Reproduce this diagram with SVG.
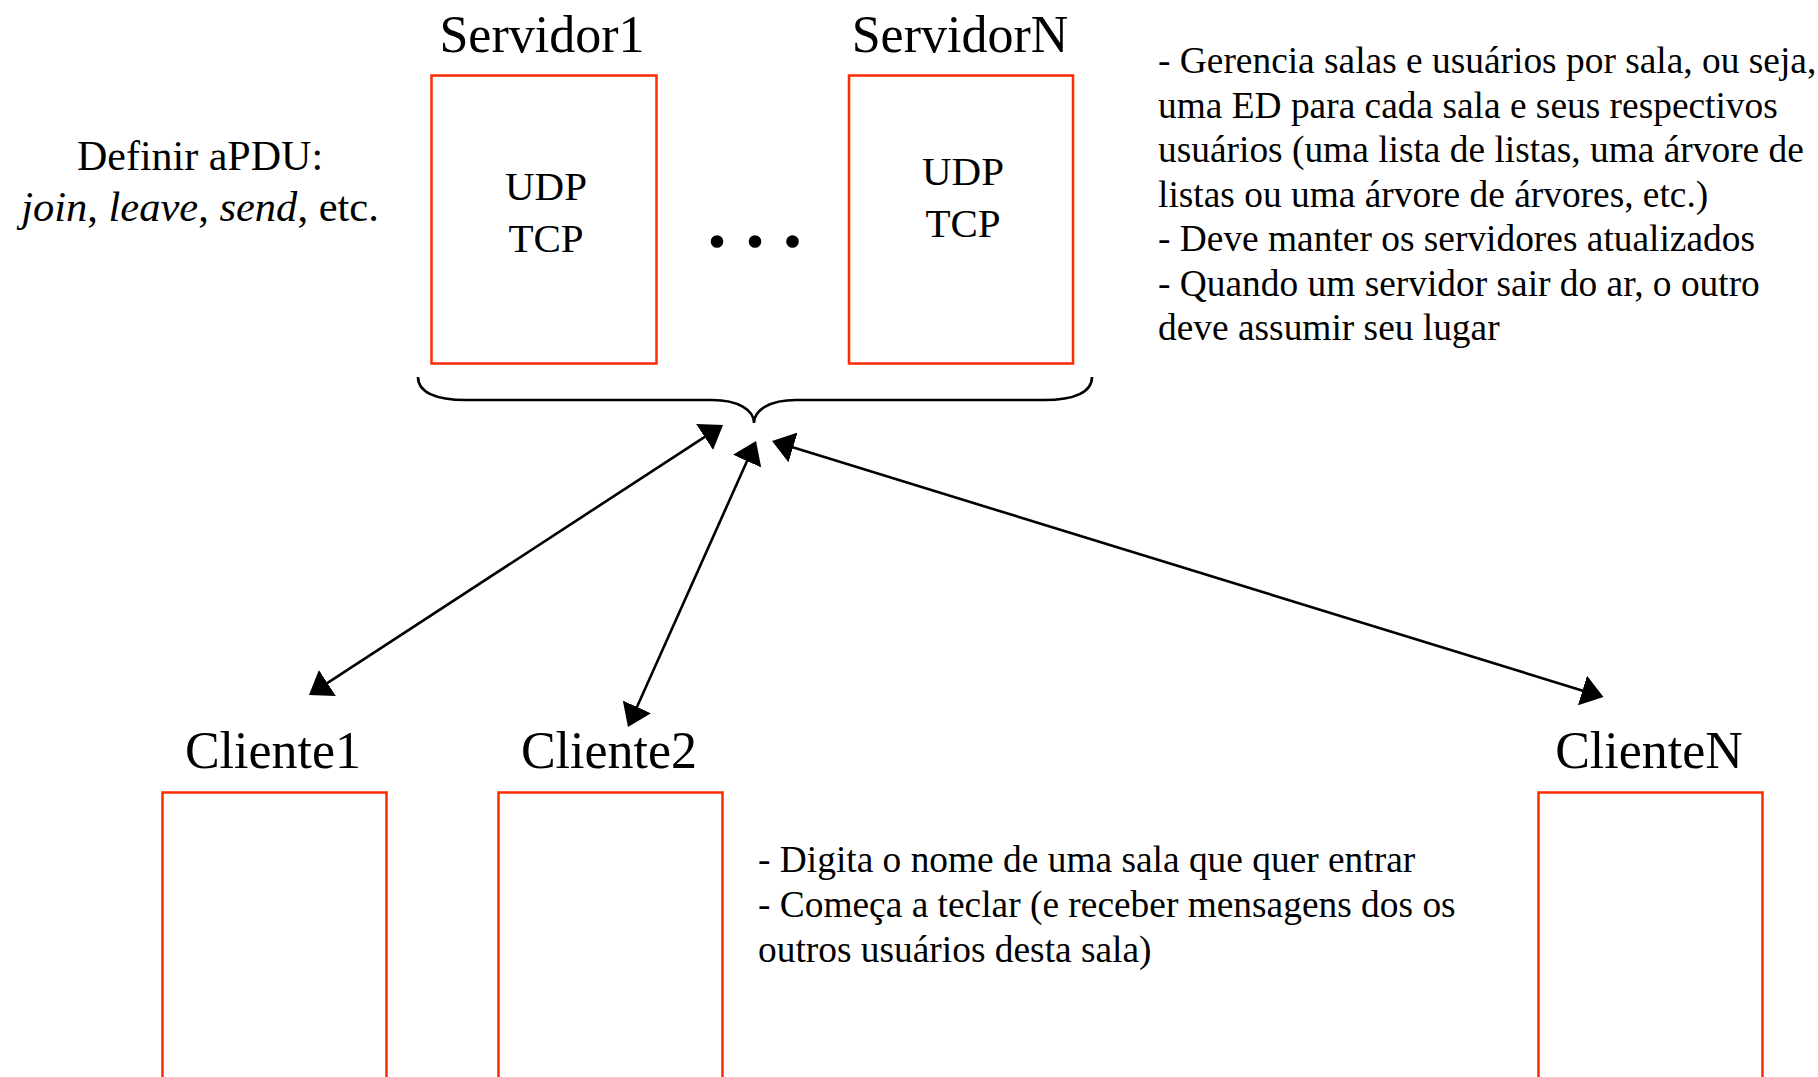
<svg xmlns="http://www.w3.org/2000/svg" width="1818" height="1077" viewBox="0 0 1818 1077">
<defs>
<style>
text{font-family:"Liberation Serif","Times New Roman",serif;fill:#000}
.box{fill:none;stroke:#ff2a00;stroke-width:2.5}
.lbl{font-size:52px;text-anchor:middle}
.proto{font-size:41px;text-anchor:middle}
.note{font-size:37.4px}
.conn{stroke:#000;stroke-width:2.6;fill:none}
</style>
<marker id="ah" markerUnits="userSpaceOnUse" viewBox="0 0 22 31" markerWidth="22" markerHeight="31" refX="8" refY="15.5" orient="auto-start-reverse">
<path d="M0,0 L22,15.5 L0,31 z" fill="#000"/>
</marker>
</defs>
<rect width="1818" height="1077" fill="#fff"/>

<g id="servidor1">
<rect class="box" x="431.5" y="75.5" width="225" height="288"/>
<text class="lbl" x="542" y="52">Servidor1</text>
<text class="proto" x="546" y="200">UDP</text>
<text class="proto" x="546" y="251.5">TCP</text>
</g>

<g id="servidorN">
<rect class="box" x="849" y="75.5" width="224" height="288"/>
<text class="lbl" x="960" y="52">ServidorN</text>
<text class="proto" x="963" y="185">UDP</text>
<text class="proto" x="963" y="236.5">TCP</text>
</g>

<g id="ellipsis">
<circle cx="717" cy="241.5" r="6.3"/>
<circle cx="755" cy="241.5" r="6.3"/>
<circle cx="792.5" cy="241.5" r="6.3"/>
</g>

<g id="brace">
<path class="conn" d="M418,377 C418,392 435,400 466,400 L712,400 C738,400 754,410 754,423 C754,410 770,400 796,400 L1044,400 C1075,400 1092,392 1092,377"/>
</g>

<g id="apdu">
<text x="200" y="170" font-size="42" text-anchor="middle">Definir aPDU:</text>
<text x="200" y="221" font-size="42.5" text-anchor="middle"><tspan font-style="italic">join</tspan>, <tspan font-style="italic">leave</tspan>, <tspan font-style="italic">send</tspan>, etc.</text>
</g>

<g id="servidor-notes">
<text class="note" x="1158" y="73">- Gerencia salas e usuários por sala, ou seja,</text>
<text class="note" x="1158" y="117.5">uma ED para cada sala e seus respectivos</text>
<text class="note" x="1158" y="162">usuários (uma lista de listas, uma árvore de</text>
<text class="note" x="1158" y="206.5">listas ou uma árvore de árvores, etc.)</text>
<text class="note" x="1158" y="251">- Deve manter os servidores atualizados</text>
<text class="note" x="1158" y="295.5">- Quando um servidor sair do ar, o outro</text>
<text class="note" x="1158" y="340">deve assumir seu lugar</text>
</g>

<g id="cliente1">
<rect class="box" x="162.5" y="792.5" width="224" height="300"/>
<text class="lbl" x="273" y="768">Cliente1</text>
</g>

<g id="cliente2">
<rect class="box" x="498.5" y="792.5" width="224" height="300"/>
<text class="lbl" x="609" y="768">Cliente2</text>
</g>

<g id="clienteN">
<rect class="box" x="1538.5" y="792.5" width="224" height="300"/>
<text class="lbl" x="1649" y="768">ClienteN</text>
</g>

<g id="cliente-notes">
<text class="note" x="758" y="872">- Digita o nome de uma sala que quer entrar</text>
<text class="note" x="758" y="917">- Começa a teclar (e receber mensagens dos os</text>
<text class="note" x="758" y="962">outros usuários desta sala)</text>
</g>

<g id="connectors">
<line class="conn" x1="320.7" y1="687.4" x2="711.3" y2="432.6" marker-start="url(#ah)" marker-end="url(#ah)"/>
<line class="conn" x1="750.3" y1="453.8" x2="633.7" y2="714.2" marker-start="url(#ah)" marker-end="url(#ah)"/>
<line class="conn" x1="785.4" y1="445.1" x2="1590.1" y2="692.9" marker-start="url(#ah)" marker-end="url(#ah)"/>
</g>
</svg>
